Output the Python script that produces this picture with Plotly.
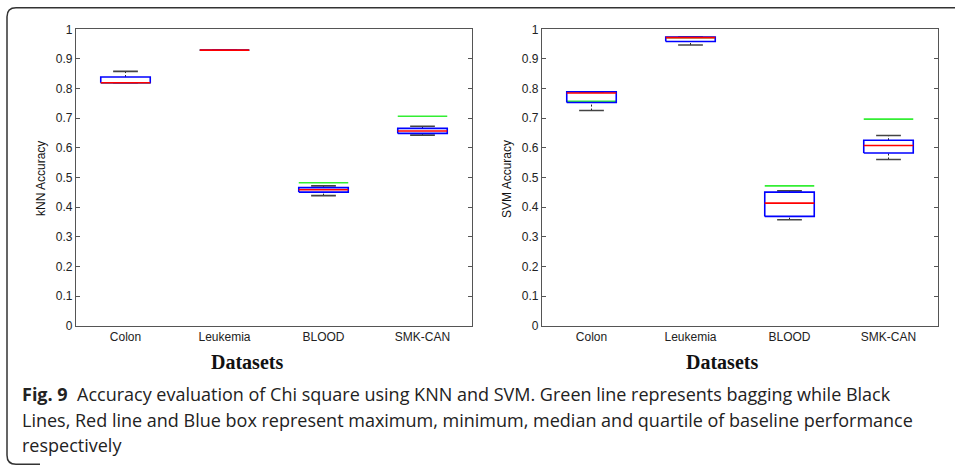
import plotly.graph_objects as go

W, H = 955, 467

categories = ["Colon", "Leukemia", "BLOOD", "SMK-CAN"]
y_tick_vals = [0, 0.1, 0.2, 0.3, 0.4, 0.5, 0.6, 0.7, 0.8, 0.9, 1.0]
y_tick_text = ["0", "0.1", "0.2", "0.3", "0.4", "0.5", "0.6", "0.7", "0.8", "0.9", "1"]

# kNN baseline statistics and bagging
knn_min = [0.820, 0.930, 0.439, 0.643]
knn_q1 = [0.820, 0.930, 0.451, 0.649]
knn_med = [0.820, 0.930, 0.459, 0.657]
knn_q3 = [0.839, 0.930, 0.466, 0.666]
knn_max = [0.858, 0.930, 0.472, 0.673]
knn_bag = [0.820, 0.930, 0.4825, 0.707]

# SVM baseline statistics and bagging
svm_min = [0.726, 0.947, 0.358, 0.561]
svm_q1 = [0.753, 0.959, 0.369, 0.583]
svm_med = [0.785, 0.972, 0.414, 0.608]
svm_q3 = [0.789, 0.974, 0.451, 0.626]
svm_max = [0.789, 0.974, 0.455, 0.642]
svm_bag = [0.757, 0.972, 0.472, 0.697]

caption_lines = [
    "<b>Fig. 9</b>  Accuracy evaluation of Chi square using KNN and SVM. Green line represents bagging while Black",
    "Lines, Red line and Blue box represent maximum, minimum, median and quartile of baseline performance",
    "respectively",
]

BOX_HALF = 0.25
CAP_HALF = 0.125
BLUE, RED, GREEN, BLACK = "#0000ff", "#ff0000", "#33ee33", "#222222"


def px(x):
    return x / W


def py(y):
    # screen y (px from top) -> paper coordinate, with empirical screen calibration
    yd = (y - 6.2) / 0.969
    return 1 - yd / H


fig = go.Figure()


def add_panel(xa, ya, mn, q1, med, q3, mx, bag):
    xs = list(range(1, len(categories) + 1))
    gx, gy = [], []
    for i, b in zip(xs, bag):
        gx += [i - BOX_HALF, i + BOX_HALF, None]
        gy += [b, b, None]
    fig.add_trace(go.Scatter(x=gx, y=gy, mode="lines", line=dict(color=GREEN, width=1.6),
                             xaxis=xa, yaxis=ya, hoverinfo="skip", showlegend=False))
    wx, wy = [], []
    for i, a, b, c, d in zip(xs, mn, q1, q3, mx):
        if d > c:
            wx += [i, i, None]
            wy += [c, d, None]
        if b > a:
            wx += [i, i, None]
            wy += [a, b, None]
    fig.add_trace(go.Scatter(x=wx, y=wy, mode="lines", line=dict(color=BLACK, width=1, dash="2px,2px"),
                             xaxis=xa, yaxis=ya, hoverinfo="skip", showlegend=False))
    cx, cy = [], []
    for i, a, d in zip(xs, mn, mx):
        cx += [i - CAP_HALF, i + CAP_HALF, None, i - CAP_HALF, i + CAP_HALF, None]
        cy += [a, a, None, d, d, None]
    fig.add_trace(go.Scatter(x=cx, y=cy, mode="lines", line=dict(color="#444444", width=1.6),
                             xaxis=xa, yaxis=ya, hoverinfo="skip", showlegend=False))
    bx, by = [], []
    for i, b, c in zip(xs, q1, q3):
        bx += [i - BOX_HALF, i + BOX_HALF, i + BOX_HALF, i - BOX_HALF, i - BOX_HALF, None]
        by += [b, b, c, c, b, None]
    fig.add_trace(go.Scatter(x=bx, y=by, mode="lines", line=dict(color=BLUE, width=1.6),
                             xaxis=xa, yaxis=ya, hoverinfo="skip", showlegend=False))
    mx_, my_ = [], []
    for i, m in zip(xs, med):
        mx_ += [i - BOX_HALF, i + BOX_HALF, None]
        my_ += [m, m, None]
    fig.add_trace(go.Scatter(x=mx_, y=my_, mode="lines", line=dict(color=RED, width=1.6),
                             xaxis=xa, yaxis=ya, hoverinfo="skip", showlegend=False))


add_panel("x", "y", knn_min, knn_q1, knn_med, knn_q3, knn_max, knn_bag)
add_panel("x2", "y2", svm_min, svm_q1, svm_med, svm_q3, svm_max, svm_bag)

tick_font = dict(family="Liberation Sans, Arial, sans-serif", size=12, color="#222222")
axis_line = "#555555"

xcommon = dict(range=[0.5, 4.5], tickvals=[1, 2, 3, 4], ticktext=categories, ticks="",
               showline=True, mirror=True, linecolor=axis_line, linewidth=1.2,
               showgrid=False, zeroline=False, tickfont=tick_font, fixedrange=True)
ycommon = dict(range=[0, 1], tickvals=y_tick_vals, ticktext=y_tick_text, ticks="inside",
               ticklen=4, tickcolor=axis_line, showline=True, mirror="ticks", linecolor=axis_line,
               linewidth=1.2, showgrid=False, zeroline=False, tickfont=tick_font, fixedrange=True)

ydom = [py(324.7), py(28.5)]
fig.update_layout(
    width=W, height=H,
    margin=dict(l=0, r=0, t=0, b=0),
    paper_bgcolor="white", plot_bgcolor="white",
    xaxis=dict(domain=[px(76), px(472)], anchor="y", **xcommon),
    yaxis=dict(domain=ydom, anchor="x", **ycommon),
    xaxis2=dict(domain=[px(542), px(938)], anchor="y2", **xcommon),
    yaxis2=dict(domain=ydom, anchor="x2", **ycommon),
    showlegend=False,
)

annotations = []
for cx, title in ((41, "kNN Accuracy"), (507, "SVM Accuracy")):
    annotations.append(dict(text=title, x=px(cx), y=py(178), xref="paper", yref="paper",
                            xanchor="center", yanchor="middle",
                            showarrow=False, textangle=-90,
                            font=dict(family="Liberation Sans, Arial", size=12, color="#111")))
for cx in (247, 722):
    annotations.append(dict(text="<b>Datasets</b>", x=px(cx), y=py(361), xref="paper", yref="paper",
                            xanchor="center", yanchor="middle", showarrow=False,
                            font=dict(family="Liberation Serif, Times New Roman, serif", size=20, color="#111")))
for k, line in enumerate(caption_lines):
    annotations.append(dict(text=line, x=px(20), y=py(393 + 25.5 * k), xref="paper", yref="paper",
                            xanchor="left", yanchor="middle", showarrow=False, align="left",
                            font=dict(family="Open Sans, sans-serif", size=18, color="#222")))
fig.update_layout(annotations=annotations)

r = 9
path = (f"M {px(W + 5)},{py(7)} L {px(7 + r)},{py(7)} Q {px(7)},{py(7)} {px(7)},{py(7 + r)} "
        f"L {px(7)},{py(454)} Q {px(7)},{py(463)} {px(7 + r)},{py(463)} L {px(40)},{py(463)}")
fig.add_shape(type="path", path=path, xref="paper", yref="paper", line=dict(color="#333333", width=1.5))

post = ("document.body.style.margin='0';document.body.style.padding='0';"
        "document.body.style.overflow='hidden';"
        "var d=document.getElementById('{plot_id}');d.style.position='fixed';"
        "d.style.left='0';d.style.top='0';")
fig.write_html("out.html", post_script=post, config={"displayModeBar": False})
